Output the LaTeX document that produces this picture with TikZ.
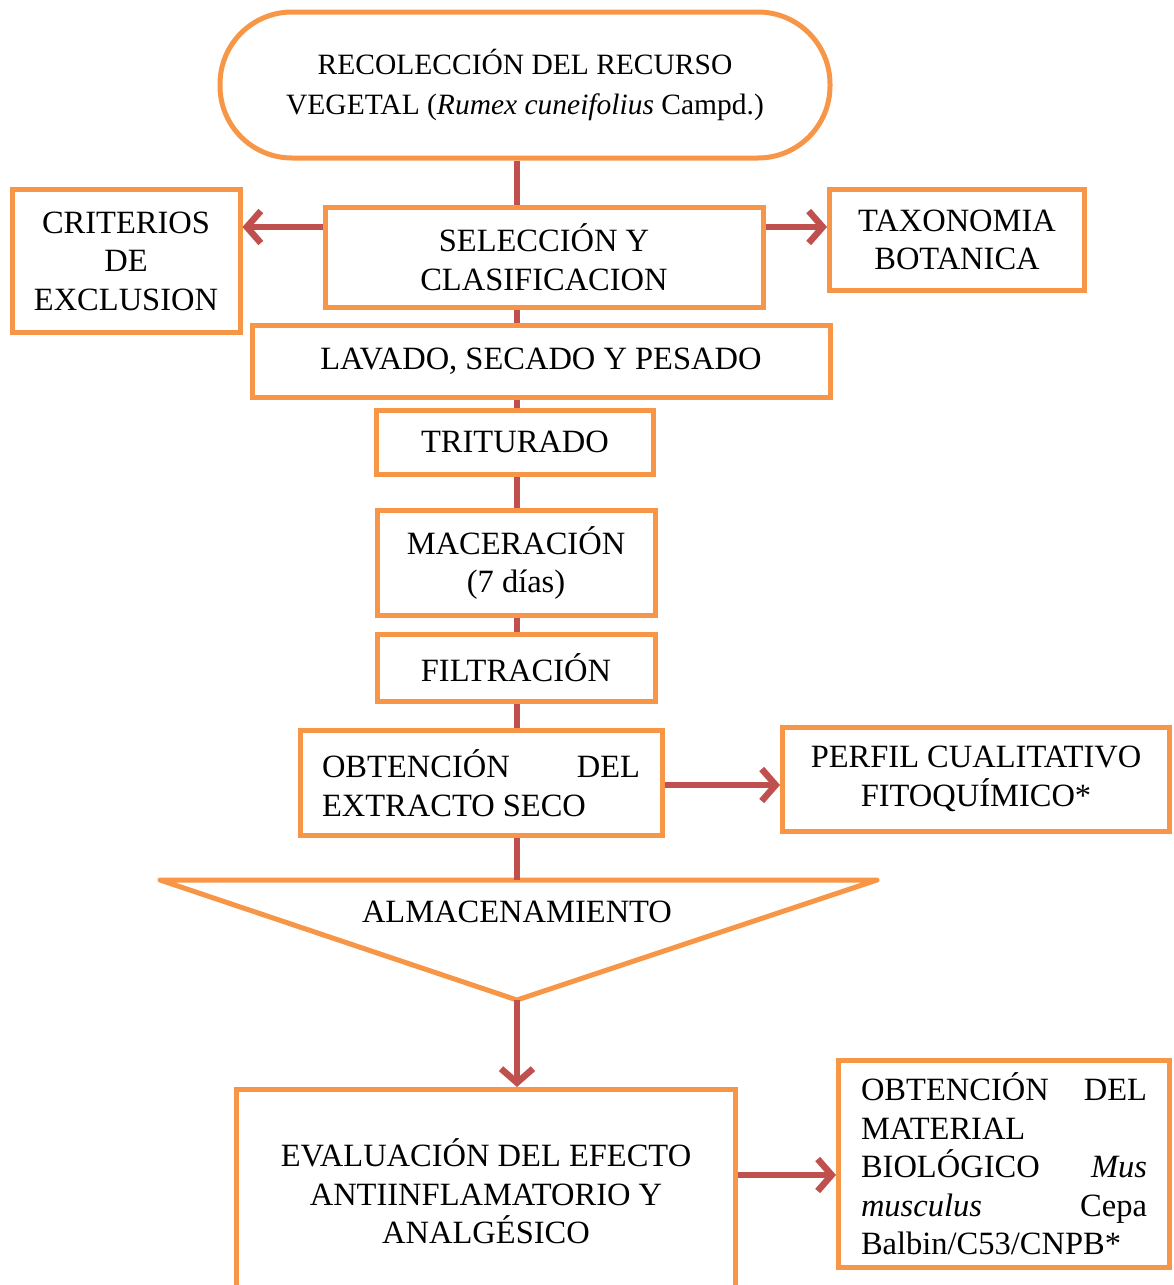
\documentclass[tikz,border=0pt]{standalone}
\usepackage{fontspec}
\setmainfont{Liberation Serif}
\usetikzlibrary{arrows.meta,calc}
\definecolor{bor}{HTML}{F79646}
\definecolor{con}{HTML}{C0504D}
\begin{document}
\begin{tikzpicture}[x=1pt,y=-1pt,
  box/.style={draw=bor,line width=5pt,fill=white,inner sep=0pt,align=center,font=\fontsize{32.5}{38.5}\selectfont},
  txt/.style={inner sep=0pt,font=\fontsize{32.5}{38.5}\selectfont},
  conn/.style={draw=con,line width=6pt},
  arr/.style={conn,-{Straight Barb[length=14pt,width=32pt,line width=6.5pt]}}]
\clip (0,0) rectangle (1173,1285);
\useasboundingbox (0,0) rectangle (1173,1285);

\node[box,minimum width=610,minimum height=146,rounded corners=72,font=\fontsize{29.5}{40}\selectfont] (top) at (525,85)
  {RECOLECCIÓN DEL RECURSO\\VEGETAL (\textit{Rumex cuneifolius} Campd.)};
\node[box,minimum width=228,minimum height=143] (cri) at (126,261) {CRITERIOS\\DE\\EXCLUSION};
\node[box,minimum width=438,minimum height=100] (sel) at (544,257) {SELECCIÓN Y\\CLASIFICACION};
\node[box,minimum width=255,minimum height=101] (tax) at (957,240) {TAXONOMIA\\BOTANICA};
\node[box,minimum width=578,minimum height=72] (lav) at (541,361) {LAVADO, SECADO Y PESADO};
\node[box,minimum width=277,minimum height=64] (tri) at (515,442) {TRITURADO};
\node[box,minimum width=278,minimum height=105] (mac) at (516,563) {MACERACIÓN\\(7 días)};
\node[box,minimum width=278,minimum height=67] (fil) at (516,668) {FILTRACIÓN};
\node[box,minimum width=362,minimum height=105,align=left] (ext) at (481,783)
  {\makebox[318pt][l]{OBTENCIÓN\hfill DEL}\\EXTRACTO SECO};
\node[box,minimum width=387,minimum height=104] (per) at (976,779) {PERFIL CUALITATIVO\\FITOQUÍMICO*};

\coordinate (tl) at (160,880);
\coordinate (tr) at (877,880);
\coordinate (apex) at (517,1000);
\coordinate (tritop) at (517,880);
\draw[draw=bor,line width=5pt,line join=round,fill=white] (tl) -- (tr) -- (apex) -- cycle;
\node[txt] (alm) at (517,912) {ALMACENAMIENTO};

\node[box,minimum width=499,minimum height=204,anchor=north] (eva) at (486,1087)
  {EVALUACIÓN DEL EFECTO\\ANTIINFLAMATORIO Y\\ANALGÉSICO};
\node[box,minimum width=331,minimum height=207,align=left] (mat) at (1004,1164)
  {\makebox[286pt][l]{OBTENCIÓN\hfill DEL}\\MATERIAL\\\makebox[286pt][l]{BIOLÓGICO\hfill \textit{Mus}}\\\makebox[286pt][l]{\textit{musculus}\hfill Cepa}\\Balbin/C53/CNPB*};

\coordinate (sp) at (517,0);
\coordinate (ya) at (0,227);
\coordinate (yb) at (0,785);
\coordinate (yc) at (0,1175);
\draw[conn] (top.south -| sp) -- (sel.north -| sp);
\draw[conn] (sel.south -| sp) -- (lav.north -| sp);
\draw[conn] (lav.south -| sp) -- (tri.north -| sp);
\draw[conn] (tri.south -| sp) -- (mac.north -| sp);
\draw[conn] (mac.south -| sp) -- (fil.north -| sp);
\draw[conn] (fil.south -| sp) -- (ext.north -| sp);
\draw[conn] (ext.south -| sp) -- (tritop);
\draw[arr] (apex) -- (eva.north -| sp);
\draw[arr] (sel.west |- ya) -- (cri.east |- ya);
\draw[arr] (sel.east |- ya) -- (tax.west |- ya);
\draw[arr] (ext.east |- yb) -- (per.west |- yb);
\draw[arr] (eva.east |- yc) -- (mat.west |- yc);
\end{tikzpicture}
\end{document}
